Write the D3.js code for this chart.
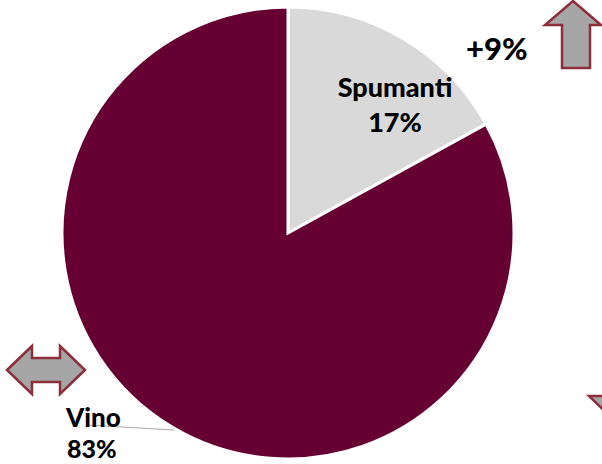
<!DOCTYPE html>
<meta charset="utf-8">
<style>
  body { margin: 0; background: #fff; }
  text { font-family: Lato, "Open Sans", sans-serif; font-weight: 900; fill: #000; }
</style>
<body>
<script src="https://d3js.org/d3.v7.min.js"></script>
<script>
  // chart data
  var categories = ["Spumanti", "Vino"];
  var values = [17, 83];
  var colors = ["#d9d9d9", "#660033"];
  var change = "+9%";

  var width = 602, height = 464;
  var cx = 288, cy = 233, radius = 226;

  var svg = d3.select("body").append("svg")
    .attr("width", width)
    .attr("height", height);

  var pie = d3.pie().sort(null).value(function (d) { return d; });
  var arc = d3.arc().innerRadius(0).outerRadius(radius);
  var arcs = pie(values);

  var g = svg.append("g").attr("transform", "translate(" + cx + "," + cy + ")");

  g.selectAll("path")
    .data(arcs)
    .enter().append("path")
    .attr("d", arc)
    .attr("fill", function (d, i) { return colors[i]; })
    .attr("stroke", "#fff")
    .attr("stroke-width", 3);

  // arrows (decoration)
  var arrowStyle = function (sel) {
    sel.attr("fill", "#a6a6a6").attr("stroke", "#8c2f3c").attr("stroke-width", 2.5);
  };
  svg.append("polygon")
    .attr("points", "573,1 601,25 590,25 590,68 562,68 562,25 545,25")
    .call(arrowStyle);
  svg.append("polygon")
    .attr("points", "7,370 32,346 32,358 60,358 60,346 85,370 60,394 60,382 32,382 32,394")
    .call(arrowStyle);
  svg.append("polygon")
    .attr("points", "589,396 640,396 615,421")
    .call(arrowStyle);

  // labels
  svg.append("text").attr("x", 395).attr("y", 97).attr("text-anchor", "middle")
    .style("font-size", "27px").text(categories[0]);
  svg.append("text").attr("x", 395).attr("y", 132).attr("text-anchor", "middle")
    .style("font-size", "27px").text(arcs[0].value + "%");

  svg.append("line")
    .attr("x1", 88).attr("y1", 425).attr("x2", 174).attr("y2", 430)
    .attr("stroke", "#a6a6a6").attr("stroke-width", 1.2);
  svg.append("text").attr("x", 66).attr("y", 427)
    .style("font-size", "26px").text(categories[1]);
  svg.append("text").attr("x", 67).attr("y", 458)
    .style("font-size", "25px").text(arcs[1].value + "%");

  svg.append("text").attr("x", 466).attr("y", 60)
    .style("font-size", "31px").text(change);
</script>
</body>
